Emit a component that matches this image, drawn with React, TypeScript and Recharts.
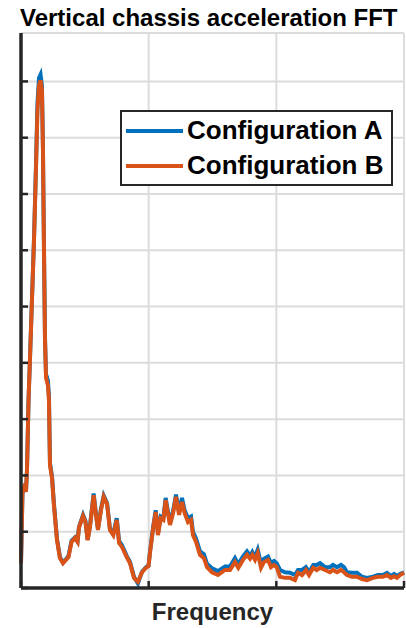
import React from 'react';
import { LineChart, Line, XAxis, YAxis, CartesianGrid, Legend, Label } from 'recharts';

const FONT = '"Liberation Sans", Arial, Helvetica, sans-serif';

// frequency, normalised so that the three grid columns are 0..1, 1..2, 2..3
const freq = [
  0, 0.012, 0.023, 0.039, 0.047, 0.059, 0.07, 0.086, 0.102, 0.117,
  0.129, 0.141, 0.153, 0.164, 0.172, 0.18, 0.188, 0.196, 0.211, 0.219,
  0.227, 0.243, 0.258, 0.282, 0.305, 0.329, 0.352, 0.372, 0.396, 0.423,
  0.443, 0.454, 0.486, 0.505, 0.522, 0.54, 0.569, 0.587, 0.603, 0.627,
  0.648, 0.674, 0.697, 0.723, 0.75, 0.768, 0.791, 0.828, 0.854, 0.885,
  0.916, 0.948, 0.979, 0.999, 1.01, 1.036, 1.055, 1.073, 1.094, 1.115,
  1.133, 1.167, 1.193, 1.214, 1.238, 1.261, 1.282, 1.308, 1.332, 1.347,
  1.371, 1.402, 1.433, 1.457, 1.496, 1.543, 1.598, 1.637, 1.676, 1.702,
  1.739, 1.77, 1.794, 1.812, 1.833, 1.854, 1.88, 1.903, 1.935, 1.958,
  1.982, 2.003, 2.029, 2.068, 2.107, 2.146, 2.17, 2.201, 2.232, 2.256,
  2.289, 2.316, 2.342, 2.381, 2.42, 2.444, 2.475, 2.506, 2.53, 2.553,
  2.592, 2.632, 2.671, 2.71, 2.757, 2.796, 2.835, 2.867, 2.898, 2.922,
  2.945, 2.969, 3,
];

const configA = [
  0.44, 1.74, 1.79, 1.71, 2.1, 3.34, 4.05, 5.14, 6.22, 7.48,
  8.62, 9.06, 9.12, 8.92, 7.82, 6.05, 4.45, 3.8, 3.68, 3.4,
  2.22, 1.98, 1.5, 0.87, 0.55, 0.45, 0.51, 0.57, 0.84, 0.9,
  0.83, 1.08, 1.3, 1.19, 0.86, 1.1, 1.68, 1.32, 1.05, 1.41,
  1.64, 1.51, 1.05, 0.97, 1.24, 0.84, 0.76, 0.57, 0.46, 0.2,
  0.08, 0.29, 0.37, 0.4, 0.64, 1.1, 1.38, 0.97, 1.27, 1.24,
  1.6, 1.15, 1.39, 1.66, 1.35, 1.6, 1.38, 1.24, 1.27, 1.0,
  0.88, 0.65, 0.6, 0.43, 0.35, 0.3, 0.38, 0.38, 0.53, 0.42,
  0.56, 0.65, 0.57, 0.64, 0.55, 0.68, 0.43, 0.52, 0.56, 0.44,
  0.48, 0.44, 0.32, 0.28, 0.27, 0.23, 0.32, 0.32, 0.37, 0.28,
  0.41, 0.41, 0.44, 0.37, 0.37, 0.41, 0.37, 0.41, 0.37, 0.28,
  0.27, 0.27, 0.2, 0.18, 0.2, 0.23, 0.23, 0.27, 0.21, 0.25,
  0.21, 0.25, 0.28,
];

const configB = [
  0.44, 1.74, 1.79, 1.71, 2.1, 3.34, 4.05, 5.12, 6.18, 7.42,
  8.49, 8.93, 9.02, 8.85, 7.78, 6.0, 4.4, 3.73, 3.6, 3.34,
  2.18, 1.95, 1.47, 0.85, 0.53, 0.44, 0.5, 0.55, 0.82, 0.89,
  0.82, 1.07, 1.28, 1.17, 0.85, 1.08, 1.65, 1.3, 1.03, 1.39,
  1.62, 1.49, 1.03, 0.94, 1.21, 0.8, 0.73, 0.55, 0.44, 0.18,
  0.11, 0.28, 0.36, 0.39, 0.62, 1.08, 1.35, 0.94, 1.24, 1.21,
  1.56, 1.12, 1.35, 1.62, 1.3, 1.53, 1.33, 1.17, 1.21, 0.94,
  0.82, 0.59, 0.53, 0.37, 0.28, 0.23, 0.32, 0.32, 0.46, 0.36,
  0.5, 0.59, 0.52, 0.59, 0.5, 0.62, 0.36, 0.46, 0.5, 0.37,
  0.41, 0.37, 0.2, 0.18, 0.18, 0.14, 0.27, 0.23, 0.32, 0.23,
  0.36, 0.32, 0.36, 0.32, 0.28, 0.32, 0.28, 0.32, 0.28, 0.23,
  0.2, 0.2, 0.16, 0.14, 0.18, 0.2, 0.2, 0.23, 0.18, 0.21,
  0.18, 0.23, 0.27,
];

const xTicks = [0, 1, 2, 3];
const yTicks = [0, 1, 2, 3, 4, 5, 6, 7, 8, 9];

const seriesNames = ['Configuration A', 'Configuration B'];
const seriesColors = ['#0072BD', '#D95319'];

const data = freq.map((f, i) => ({ f, a: configA[i], b: configB[i] }));

const AXIS = '#262626';

const LegendBox = () => (
  <div
    style={{
      boxSizing: 'border-box',
      width: 273,
      height: 76,
      border: `2.5px solid ${AXIS}`,
      background: '#fff',
      padding: '1px 0 0 4px',
      fontFamily: FONT,
    }}
  >
    {seriesNames.map((name, i) => (
      <div key={name} style={{ display: 'flex', alignItems: 'center', height: 35 }}>
        <div style={{ width: 57, height: 4, background: seriesColors[i], marginRight: 4 }} />
        <span style={{ fontSize: 26, fontWeight: 'bold', color: '#000', lineHeight: '35px' }}>{name}</span>
      </div>
    ))}
  </div>
);

export default function App() {
  return (
    <div style={{ position: 'absolute', left: 0, top: 0, width: 406, height: 628, background: '#fff' }}>
      <div
        style={{
          position: 'absolute',
          left: 20,
          top: 6,
          fontFamily: FONT,
          fontSize: 24,
          lineHeight: '24px',
          fontWeight: 'bold',
          color: '#000',
          whiteSpace: 'nowrap',
          zIndex: 2,
        }}
      >
        Vertical chassis acceleration FFT
      </div>
      <LineChart width={406} height={628} data={data} margin={{ top: 33, right: 2, bottom: 40, left: 21 }}>
        <CartesianGrid stroke="#dcdcdc" strokeWidth={2} />
        <Line
          type="linear"
          dataKey="a"
          name={seriesNames[0]}
          stroke={seriesColors[0]}
          strokeWidth={4}
          dot={false}
          isAnimationActive={false}
        />
        <Line
          type="linear"
          dataKey="b"
          name={seriesNames[1]}
          stroke={seriesColors[1]}
          strokeWidth={4}
          dot={false}
          isAnimationActive={false}
        />
        <XAxis
          dataKey="f"
          type="number"
          domain={[0, 3]}
          ticks={xTicks}
          height={1}
          mirror
          tickSize={7}
          tickFormatter={() => ''}
          axisLine={{ stroke: AXIS, strokeWidth: 3.5 }}
          tickLine={{ stroke: AXIS, strokeWidth: 2.5 }}
        >
          <Label
            value="Frequency"
            position="bottom"
            offset={15}
            style={{ fontFamily: FONT, fontSize: 24, fontWeight: 'bold', fill: AXIS }}
          />
        </XAxis>
        <YAxis
          type="number"
          domain={[0, 9.86]}
          ticks={yTicks}
          width={1}
          mirror
          tickSize={7}
          tickFormatter={() => ''}
          axisLine={{ stroke: AXIS, strokeWidth: 3.5 }}
          tickLine={{ stroke: AXIS, strokeWidth: 2.5 }}
        />
        <Legend
          layout="horizontal"
          align="center"
          verticalAlign="middle"
          content={<LegendBox />}
          wrapperStyle={{ position: 'absolute', left: 120, top: 110, width: 273, height: 76 }}
        />
      </LineChart>
    </div>
  );
}
